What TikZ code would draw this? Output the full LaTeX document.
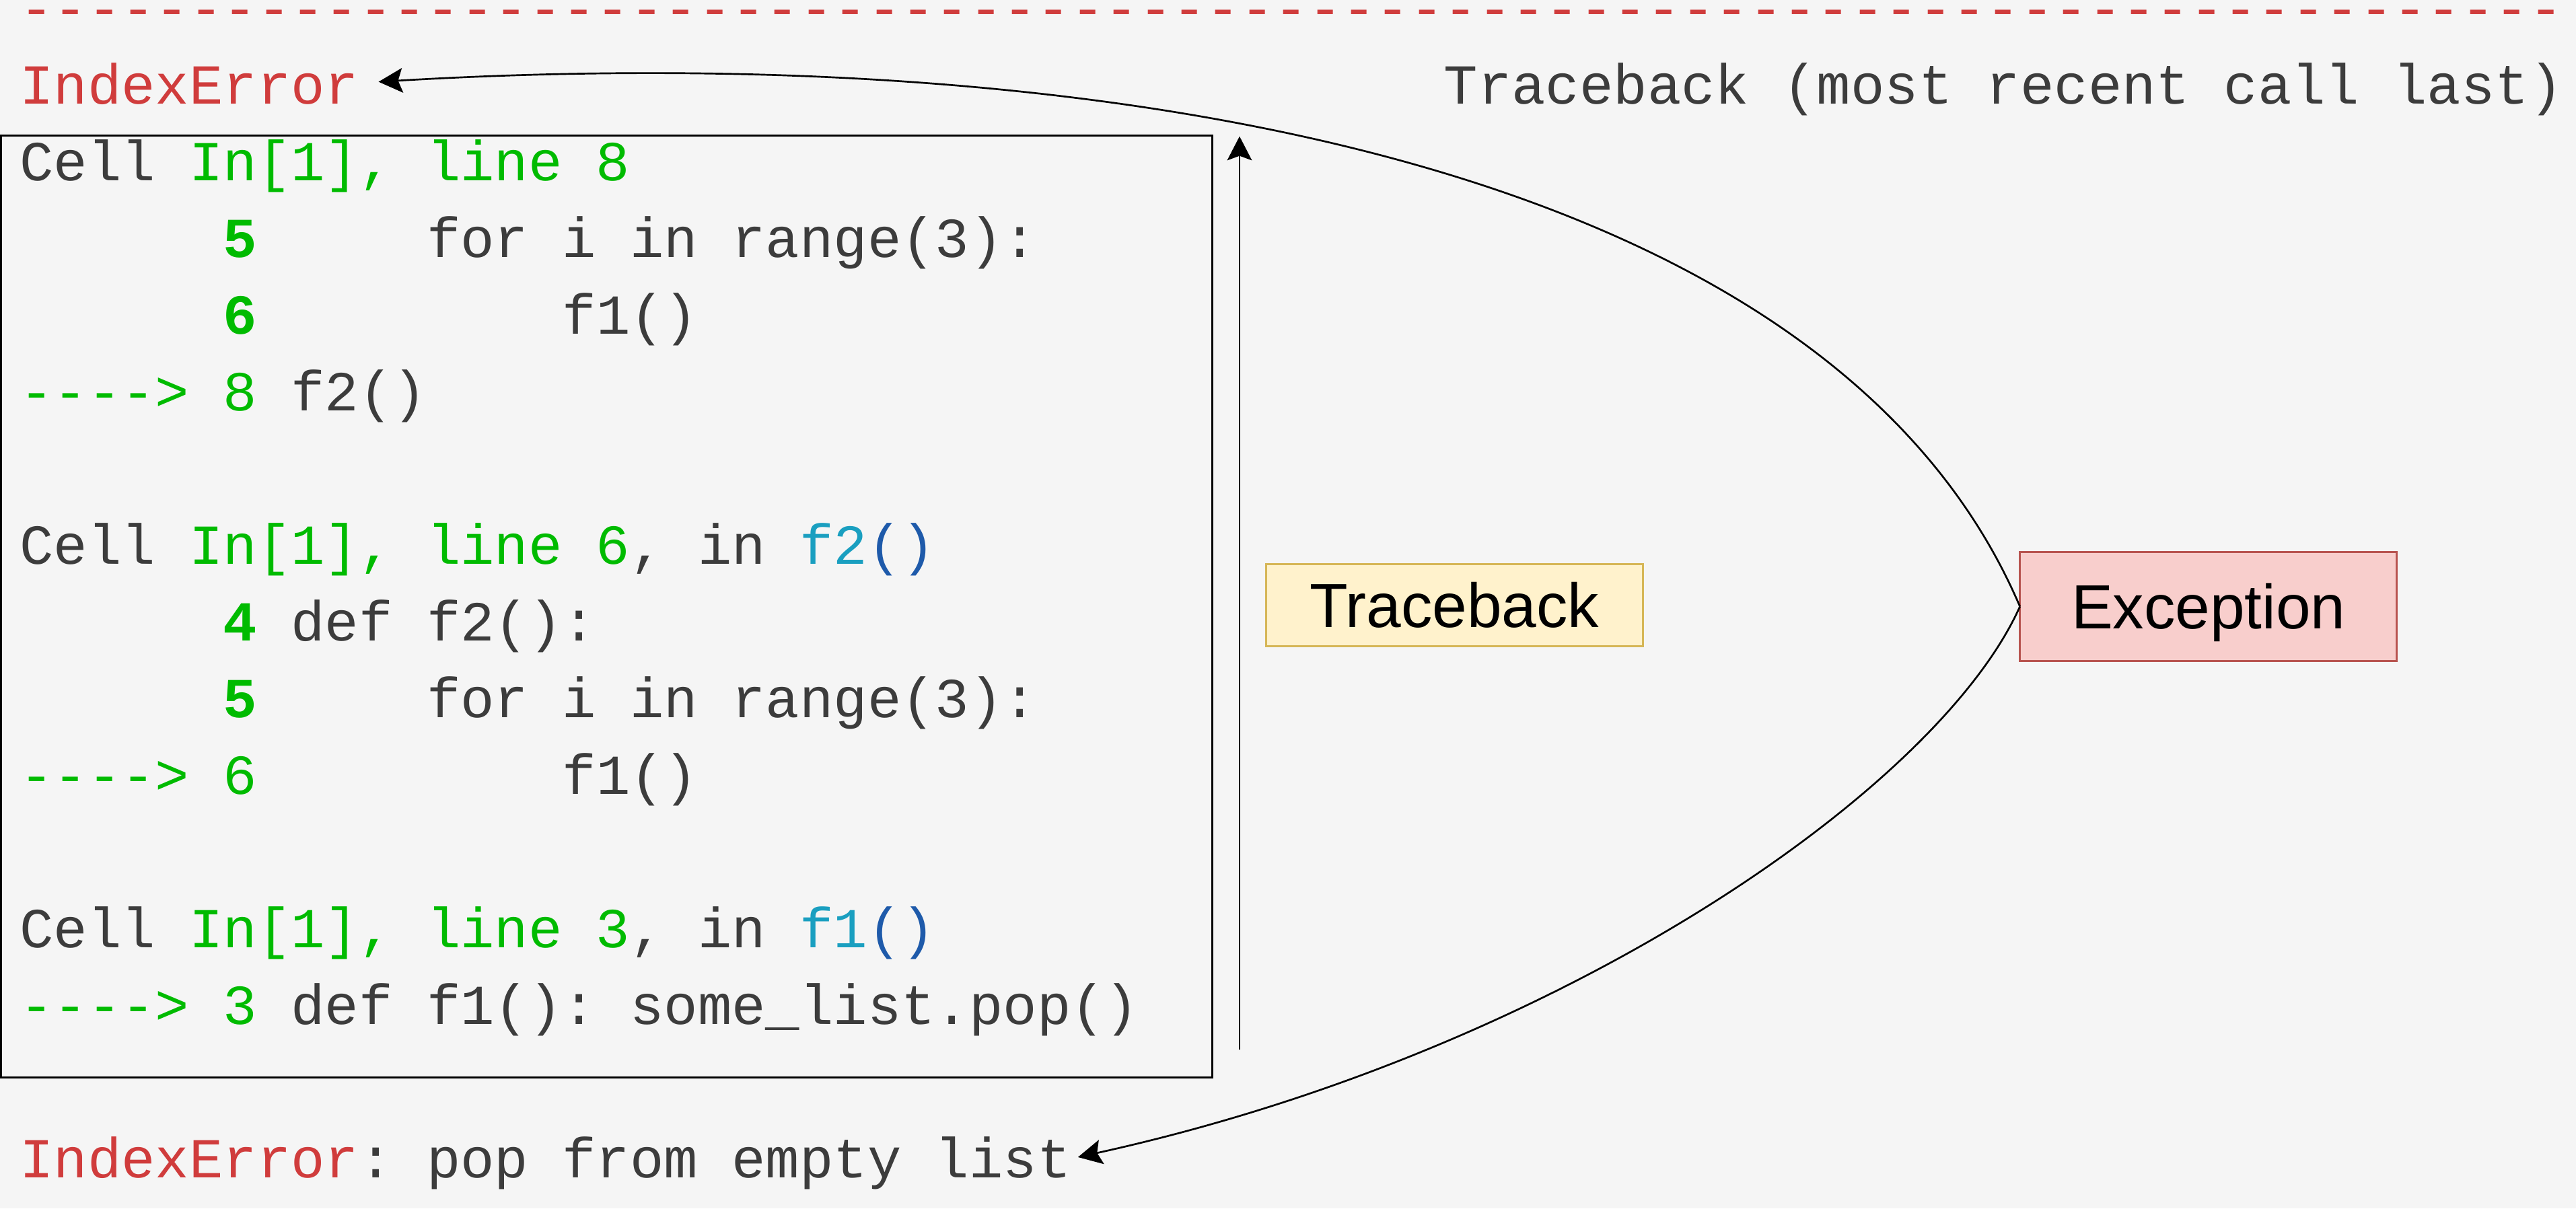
\documentclass[tikz,border=0pt]{standalone}
\usepackage{fontspec}
\setmainfont{Liberation Sans}
\setmonofont{Liberation Mono}
\usetikzlibrary{arrows.meta}
\definecolor{bgc}{HTML}{F5F5F5}
\definecolor{codegray}{HTML}{3C3C3C}
\definecolor{cgreen}{HTML}{00BB00}
\definecolor{cred}{HTML}{D03C3C}
\definecolor{ccyan}{HTML}{1A9FC0}
\definecolor{cblue}{HTML}{1E5AAA}
\definecolor{tbfill}{HTML}{FFF2CC}
\definecolor{tbdraw}{HTML}{D6B656}
\definecolor{exfill}{HTML}{F8CECC}
\definecolor{exdraw}{HTML}{B85450}
\newcommand\gap[1]{\kern#1\fontcharwd\font`x\relax}
\newcommand\hy{-\kern0pt }
\newcommand\arrowmark{\textcolor{cgreen}{\hy\hy\hy\hy>}}
\newcommand\gn[1]{\textcolor{cgreen}{#1}}
\newcommand\gb[1]{\textcolor{cgreen}{\bfseries #1}}
\tikzset{
  codeline/.style={anchor=base west, inner sep=0pt, outer sep=0pt,
    font=\ttfamily\fontsize{34.4}{46.7}\selectfont, text=codegray},
  labelbox/.style={inner sep=0pt, outer sep=0pt, line width=1.2pt,
    font=\fontsize{38}{44}\selectfont, text=black,
    text height=27.2pt, text depth=0pt},
  arr/.style={line width=1.1pt, -{Stealth[length=14.6pt, width=15pt, inset=2.7pt]}},
}
\begin{document}
\begin{tikzpicture}[x=1pt,y=-1pt]
\fill[bgc] (0,0) rectangle (1568,735.67);
\useasboundingbox (0,0) rectangle (1568,735.67);

% code box
\node[draw=black, line width=1.4pt, minimum width=737.35pt, minimum height=573.4pt,
  inner sep=0pt, outer sep=0pt, anchor=north west] (codebox) at (0.65,82.6) {};

% text lines (baseline = 16.6 + 46.7 k)
\node[codeline, text=cred] (dashline) at (12,16.6) {\foreach \i in {1,...,75}{\hy}};
\node[codeline, text=cred] (hdrerr) at (12,63.3) {IndexError};
\node[codeline] (hdrtb) at (878.9,63.3) {Traceback (most recent call last)};
\node[codeline] (l2) at (12,110.0) {Cell \gn{In[1], line 8}};
\node[codeline] (l3) at (12,156.7) {\gap6\gb{5}\gap5for i in range(3):};
\node[codeline] (l4) at (12,203.4) {\gap6\gb{6}\gap9f1()};
\node[codeline] (l5) at (12,250.1) {\arrowmark{} \gn{8} f2()};
\node[codeline] (l7) at (12,343.5) {Cell \gn{In[1], line 6}, in \textcolor{ccyan}{f2}\textcolor{cblue}{()}};
\node[codeline] (l8) at (12,390.2) {\gap6\gb{4} def f2():};
\node[codeline] (l9) at (12,436.9) {\gap6\gb{5}\gap5for i in range(3):};
\node[codeline] (l10) at (12,483.6) {\arrowmark{} \gn{6}\gap9f1()};
\node[codeline] (l12) at (12,577.0) {Cell \gn{In[1], line 3}, in \textcolor{ccyan}{f1}\textcolor{cblue}{()}};
\node[codeline] (l13) at (12,623.7) {\arrowmark{} \gn{3} def f1(): some\_list.pop()};
\node[codeline] (lastline) at (12,717.1) {\textcolor{cred}{IndexError}: pop from empty list};

% label boxes
\node[labelbox, draw=tbdraw, fill=tbfill, minimum width=229.5pt, minimum height=50pt]
  (tb) at (885.25,368.5) {Traceback};
\node[labelbox, draw=exdraw, fill=exfill, minimum width=229.5pt, minimum height=66.5pt]
  (exc) at (1344.25,369.25) {Exception};

% connectors
\coordinate (vbot) at (754.5,639);
\coordinate (vtop) at (754.5,83);
\draw[arr] (vbot) -- (vtop);

\coordinate (errtip) at ([shift={(12,-13.5)}]hdrerr.base east);
\coordinate (listtip) at ([shift={(4.2,-12.6)}]lastline.base east);
\draw[arr] (exc.west) .. controls (1110,90) and (650,25) .. (errtip);
\draw[arr] (exc.west) .. controls (1180,480) and (950,640) .. (listtip);
\end{tikzpicture}
\end{document}
